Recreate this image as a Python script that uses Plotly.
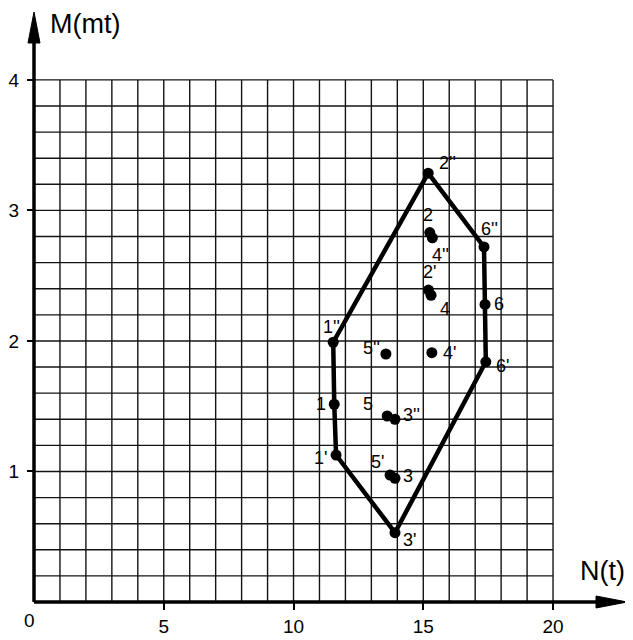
import plotly.graph_objects as go

# --- data -------------------------------------------------------------
point_names = ["1''", "1", "1'", "2''", "2", "2'", "3''", "3", "3'",
               "4''", "4", "4'", "5''", "5", "5'", "6''", "6", "6'"]
point_n = [11.53, 11.57, 11.64, 15.19, 15.25, 15.20, 13.91, 13.91, 13.91,
           15.35, 15.30, 15.33, 13.56, 13.61, 13.72, 17.34, 17.38, 17.41]
point_m = [1.99, 1.515, 1.126, 3.285, 2.83, 2.39, 1.40, 0.948, 0.531,
           2.79, 2.35, 1.91, 1.90, 1.425, 0.973, 2.72, 2.28, 1.84]

hull_order = ["1''", "2''", "6''", "6", "6'", "3'", "1'", "1", "1''"]

x_ticks = [5, 10, 15, 20]
y_ticks = [1, 2, 3, 4]
x_title = "N(t)"
y_title = "M(mt)"

# grid extent and spacing
grid_x_max, grid_y_max = 20, 4
grid_dx, grid_dy = 1, 0.2

# label placement (pixels relative to each point): xanchor, xshift, yshift
label_pos = {
    "1''": ("right", 9, 15), "1": ("right", -6, 0), "1'": ("right", -7, -3),
    "2''": ("left", 9, 10), "2": ("center", -2, 18), "2'": ("center", 1, 18),
    "3''": ("left", 6, 4), "3": ("left", 6, 2), "3'": ("left", 6, -7),
    "4''": ("left", -2, -17), "4": ("left", 7, -14), "4'": ("left", 9, 0),
    "5''": ("right", -4, 6), "5": ("right", -12, 12), "5'": ("right", -4, 13),
    "6''": ("left", -5, 18), "6": ("left", 7, 0), "6'": ("left", 8, -4),
}

# --- figure -----------------------------------------------------------
lookup = {n: (x, y) for n, x, y in zip(point_names, point_n, point_m)}
hx = [lookup[n][0] for n in hull_order]
hy = [lookup[n][1] for n in hull_order]

fig = go.Figure()

# grid as one trace
gx, gy = [], []
k = 0
while k * grid_dy <= grid_y_max + 1e-9:
    yy = k * grid_dy
    gx += [0, grid_x_max, None]
    gy += [yy, yy, None]
    k += 1
for xx in range(0, grid_x_max + 1, grid_dx):
    gx += [xx, xx, None]
    gy += [0, grid_y_max, None]
fig.add_trace(go.Scatter(x=gx, y=gy, mode="lines",
                         line=dict(color="#141414", width=1.4),
                         hoverinfo="skip", showlegend=False))

fig.add_trace(go.Scatter(x=hx, y=hy, mode="lines",
                         line=dict(color="black", width=4.5),
                         showlegend=False))
fig.add_trace(go.Scatter(x=point_n, y=point_m, mode="markers",
                         marker=dict(color="black", size=11),
                         text=point_names, showlegend=False))

label_font = dict(family="Liberation Sans, Arial, sans-serif", size=18, color="black")
for n, x, y in zip(point_names, point_n, point_m):
    xa, xs, ys = label_pos[n]
    fig.add_annotation(x=x, y=y, text=n, showarrow=False, xanchor=xa,
                       yanchor="middle", xshift=xs, yshift=ys, font=label_font)

# plot geometry (pixels) for axis arrows, drawn in paper coords (not clipped)
W_PX, H_PX = 593, 590
x_end = 22.85
y_end = 4.52
head_len, head_half = 31, 6

fig.add_shape(type="line", x0=0, y0=0, x1=1 - 20 / W_PX, y1=0, xref="paper", yref="paper",
              line=dict(color="black", width=3.5), layer="above")
fig.add_shape(type="line", x0=0, y0=0, x1=0, y1=1 - 20 / H_PX, xref="paper", yref="paper",
              line=dict(color="black", width=3.5), layer="above")
hx0 = 1 - head_len / W_PX
hh = head_half / H_PX
fig.add_shape(type="path", xref="paper", yref="paper",
              path=f"M {hx0},{-hh} L 1,0 L {hx0},{hh} Z",
              fillcolor="black", line=dict(color="black", width=1), layer="above")
hy0 = 1 - head_len / H_PX
hw = head_half / W_PX
fig.add_shape(type="path", xref="paper", yref="paper",
              path=f"M {-hw},{hy0} L 0,1 L {hw},{hy0} Z",
              fillcolor="black", line=dict(color="black", width=1), layer="above")

title_font = dict(family="Liberation Sans, Arial, sans-serif", size=27, color="black")
fig.add_annotation(x=0.024, y=0.98, xref="paper", yref="paper", text=y_title,
                   showarrow=False, xanchor="left", yanchor="middle", font=title_font)
fig.add_annotation(x=0.958, y=0.052, xref="paper", yref="paper", text=x_title,
                   showarrow=False, xanchor="center", yanchor="middle", font=title_font)
fig.add_annotation(x=0, y=0, xref="x", yref="y", text="0", showarrow=False,
                   xanchor="center", yanchor="top", xshift=-5, yshift=-6,
                   font=dict(family="Liberation Sans, Arial, sans-serif", size=19, color="black"))

tick_font = dict(family="Liberation Sans, Arial, sans-serif", size=19, color="black")
fig.update_xaxes(range=[0, x_end], tickvals=x_ticks, ticktext=[str(v) for v in x_ticks],
                 ticks="outside", ticklen=7, tickwidth=2, tickcolor="black",
                 showgrid=False, zeroline=False, showline=False, tickfont=tick_font,
                 automargin=False)
fig.update_yaxes(range=[0, y_end], tickvals=y_ticks, ticktext=[str(v) for v in y_ticks],
                 ticks="outside", ticklen=6, tickwidth=2, tickcolor="black",
                 showgrid=False, zeroline=False, showline=False, tickfont=tick_font,
                 automargin=False, ticklabelstandoff=4)

fig.update_layout(width=625, height=632, margin=dict(l=26, r=6, t=4, b=38),
                  paper_bgcolor="white", plot_bgcolor="white", showlegend=False)

fig.write_html("out.html")
